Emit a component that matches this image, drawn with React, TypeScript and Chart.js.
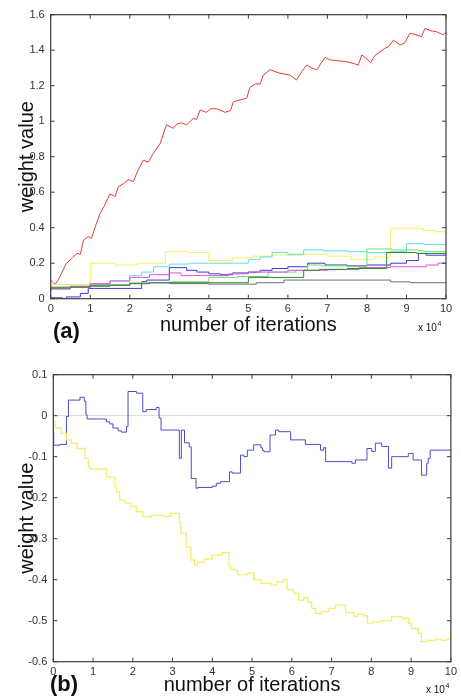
import React, { useEffect, useRef } from 'react';
import { Chart, registerables } from 'chart.js';

Chart.register(...registerables);

// ---------- data (x in units of 10^4 iterations) ----------
const xTicks = [0, 1, 2, 3, 4, 5, 6, 7, 8, 9, 10];
const yTicksA = [0, 0.2, 0.4, 0.6, 0.8, 1, 1.2, 1.4, 1.6];
const yTicksB = [-0.6, -0.5, -0.4, -0.3, -0.2, -0.1, 0, 0.1];

const redA = [[0,0.105],[0.11,0.08],[0.2,0.11],[0.4,0.2],[0.55,0.23],[0.66,0.256],[0.75,0.25],[0.83,0.33],[0.95,0.35],[1.03,0.34],[1.15,0.42],[1.25,0.48],[1.35,0.52],[1.5,0.59],[1.63,0.575],[1.71,0.63],[1.85,0.65],[1.96,0.67],[2.09,0.66],[2.2,0.72],[2.34,0.78],[2.47,0.77],[2.6,0.82],[2.77,0.875],[2.93,0.98],[3.1,0.96],[3.2,0.985],[3.31,0.99],[3.44,0.98],[3.61,1.016],[3.69,1.01],[3.78,1.063],[3.94,1.05],[4.05,1.07],[4.2,1.07],[4.41,1.05],[4.55,1.06],[4.62,1.11],[4.79,1.12],[4.96,1.13],[5.04,1.19],[5.17,1.21],[5.3,1.21],[5.38,1.26],[5.55,1.29],[5.8,1.27],[6.05,1.26],[6.22,1.232],[6.35,1.28],[6.48,1.317],[6.6,1.3],[6.73,1.29],[6.94,1.36],[7.07,1.345],[7.3,1.34],[7.49,1.335],[7.65,1.326],[7.78,1.316],[7.87,1.373],[8.0,1.35],[8.09,1.33],[8.2,1.37],[8.33,1.39],[8.45,1.41],[8.55,1.42],[8.67,1.457],[8.84,1.43],[8.95,1.44],[9.09,1.495],[9.2,1.49],[9.38,1.476],[9.47,1.523],[9.6,1.51],[9.76,1.504],[9.93,1.486],[10,1.5]];
const yellowA = [[0,0.077],[1.0,0.08],[1.63,0.2],[2.2,0.19],[2.9,0.2],[3.45,0.265],[4.0,0.26],[4.6,0.215],[5.1,0.23],[5.6,0.24],[6.4,0.245],[7.0,0.25],[7.6,0.24],[8.2,0.22],[8.6,0.235],[9.43,0.397],[9.7,0.385],[10,0.377]];
const cyanA = [[0,0.05],[0.5,0.055],[1,0.065],[1.5,0.08],[2,0.1],[2.3,0.13],[2.6,0.15],[3,0.18],[3.5,0.195],[4,0.2],[5,0.2],[5.3,0.22],[5.6,0.235],[6,0.26],[6.4,0.25],[6.9,0.275],[7.5,0.27],[8,0.265],[8.6,0.26],[9.0,0.265],[9.45,0.31],[9.8,0.305],[10,0.305]];
const greenA = [[0,0.05],[0.5,0.06],[1,0.07],[2,0.08],[3,0.09],[4,0.095],[4.74,0.12],[5.5,0.125],[6.2,0.15],[6.5,0.16],[6.85,0.19],[7.5,0.185],[8.0,0.18],[8.63,0.28],[9.3,0.275],[9.45,0.27],[10,0.265]];
const darkGreenA = [[0,0.04],[0.5,0.06],[1,0.065],[1.5,0.07],[2,0.075],[2.5,0.085],[3,0.09],[5,0.09],[6.4,0.12],[6.8,0.16],[7.5,0.165],[8.5,0.17],[9.26,0.26],[10,0.255]];
const blueA = [[0,0.02],[0.3,0.005],[0.4,0],[0.75,0.01],[0.95,0.03],[2.3,0.058],[2.43,0.096],[3.0,0.105],[3.44,0.175],[3.7,0.16],[4.0,0.15],[4.3,0.14],[4.6,0.135],[5.0,0.145],[5.3,0.15],[5.6,0.16],[6.0,0.17],[6.5,0.18],[6.94,0.2],[7.5,0.19],[8.0,0.185],[8.6,0.19],[9.0,0.2],[9.3,0.215],[9.5,0.255],[10,0.245]];
const magentaA = [[0,0.05],[0.5,0.055],[1,0.07],[1.5,0.085],[2,0.1],[2.5,0.12],[3,0.135],[3.3,0.145],[3.5,0.13],[4.5,0.13],[5,0.14],[6,0.15],[7,0.16],[7.8,0.165],[8.6,0.175],[9.5,0.18],[9.8,0.19],[10,0.2]];
const grayA = [[0,0.045],[1,0.065],[2,0.075],[2.5,0.085],[3,0.09],[4,0.085],[5.2,0.082],[5.9,0.09],[8.6,0.105],[9.1,0.095],[10,0.09]];

const blueB = [[0,0.006],[0.01,-0.039],[0.17,-0.072],[0.33,-0.07],[0.38,-0.002],[0.67,0.038],[0.78,0.045],[0.82,0.035],[0.85,0.002],[1.34,-0.008],[1.42,-0.015],[1.5,-0.02],[1.63,-0.03],[1.71,-0.037],[1.84,-0.04],[1.88,-0.026],[2.09,0.059],[2.25,0.055],[2.34,0.01],[2.59,0.015],[2.66,0.02],[2.71,-0.006],[3.17,-0.035],[3.22,-0.104],[3.3,-0.035],[3.42,-0.066],[3.47,-0.076],[3.59,-0.153],[3.63,-0.177],[4.0,-0.175],[4.1,-0.172],[4.2,-0.165],[4.43,-0.161],[4.5,-0.137],[4.71,-0.14],[4.79,-0.096],[4.88,-0.1],[5.04,-0.084],[5.22,-0.071],[5.26,-0.078],[5.3,-0.085],[5.45,-0.088],[5.59,-0.047],[5.67,-0.035],[5.97,-0.039],[6.34,-0.059],[6.72,-0.07],[6.8,-0.084],[6.85,-0.078],[7.51,-0.112],[7.6,-0.116],[7.89,-0.108],[8.01,-0.08],[8.1,-0.087],[8.26,-0.067],[8.43,-0.075],[8.51,-0.128],[8.93,-0.1],[9.05,-0.092],[9.26,-0.108],[9.39,-0.145],[9.43,-0.116],[9.48,-0.104],[9.85,-0.084],[10,-0.084]];
const yellowB = [[0,0],[0.05,-0.015],[0.2,-0.03],[0.33,-0.043],[0.45,-0.059],[0.6,-0.067],[0.8,-0.08],[0.88,-0.104],[0.92,-0.124],[1.34,-0.13],[1.55,-0.15],[1.59,-0.173],[1.67,-0.186],[1.8,-0.206],[1.96,-0.213],[2.09,-0.222],[2.25,-0.234],[2.46,-0.246],[2.76,-0.243],[2.95,-0.246],[3.17,-0.238],[3.21,-0.262],[3.34,-0.287],[3.46,-0.32],[3.55,-0.352],[3.63,-0.364],[3.8,-0.357],[4.0,-0.35],[4.25,-0.34],[4.42,-0.334],[4.46,-0.368],[4.63,-0.376],[4.88,-0.388],[5.05,-0.384],[5.22,-0.4],[5.47,-0.409],[5.63,-0.413],[5.8,-0.405],[5.88,-0.4],[6.05,-0.425],[6.17,-0.433],[6.3,-0.45],[6.4,-0.444],[6.5,-0.455],[6.6,-0.47],[6.76,-0.482],[6.93,-0.478],[7.1,-0.47],[7.35,-0.462],[7.56,-0.48],[7.64,-0.49],[7.8,-0.484],[7.9,-0.488],[8.05,-0.506],[8.26,-0.503],[8.51,-0.5],[8.76,-0.49],[8.93,-0.494],[9.01,-0.506],[9.18,-0.519],[9.26,-0.531],[9.39,-0.551],[9.6,-0.548],[9.77,-0.545],[9.9,-0.548],[10,-0.545]];

const FONT = "'Liberation Sans', Arial, Helvetica, sans-serif";

const toPts = (arr: number[][]) => arr.map(([x, y]) => ({ x, y }));

const ds = (data: number[][], color: string, stepped: any, width = 1) => ({
  data: toPts(data),
  borderColor: color,
  backgroundColor: color,
  borderWidth: width,
  pointRadius: 0,
  fill: false,
  stepped,
  tension: 0,
});

const framePlugin = {
  id: 'frame',
  afterDatasetsDraw(chart: any, _args: any, opts: any) {
    const { ctx, chartArea: a, scales } = chart;
    ctx.save();
    ctx.strokeStyle = '#3c3c3c';
    ctx.lineWidth = 1.2;
    ctx.strokeRect(a.left, a.top, a.right - a.left, a.bottom - a.top);
    const L = 4;
    ctx.beginPath();
    scales.x.ticks.forEach((t: any) => {
      const px = scales.x.getPixelForValue(t.value);
      ctx.moveTo(px, a.bottom); ctx.lineTo(px, a.bottom - L);
      ctx.moveTo(px, a.top); ctx.lineTo(px, a.top + L);
    });
    scales.y.ticks.forEach((t: any) => {
      const py = scales.y.getPixelForValue(t.value);
      ctx.moveTo(a.left, py); ctx.lineTo(a.left + L, py);
      ctx.moveTo(a.right, py); ctx.lineTo(a.right - L, py);
    });
    ctx.lineWidth = 1;
    ctx.stroke();
    // panel label and exponent
    ctx.fillStyle = '#111';
    ctx.textBaseline = 'alphabetic';
    ctx.textAlign = 'left';
    ctx.font = `bold 22px ${FONT}`;
    ctx.fillText(opts.label, opts.labelX, opts.labelY);
    ctx.font = `10px ${FONT}`;
    ctx.fillText('x 10', opts.expX, opts.expY);
    const w = ctx.measureText('x 10').width;
    ctx.font = `7px ${FONT}`;
    ctx.fillText('4', opts.expX + w + 0.5, opts.expY - 5);
    ctx.restore();
  },
};

function makeOptions(cfg: any) {
  return {
    responsive: false,
    animation: false,
    layout: { padding: cfg.padding },
    plugins: {
      legend: { display: false },
      tooltip: { enabled: false },
      frame: cfg.frame,
    },
    scales: {
      x: {
        type: 'linear',
        min: 0,
        max: 10,
        afterBuildTicks: (s: any) => { s.ticks = xTicks.map((v) => ({ value: v })); },
        afterFit: (s: any) => { s.height = cfg.xHeight; },
        grid: { display: false, drawTicks: false },
        border: { display: false },
        ticks: {
          autoSkip: false,
          maxRotation: 0,
          padding: cfg.xTickPad,
          color: '#333',
          font: { family: FONT, size: 11 },
          callback: (v: any) => String(Math.round(Number(v) * 10) / 10),
        },
        title: {
          display: true,
          text: 'number of iterations',
          color: '#111',
          font: { family: FONT, size: 20, lineHeight: 1.2 },
          padding: { top: 0, bottom: cfg.xTitlePad },
        },
      },
      y: {
        type: 'linear',
        min: cfg.yMin,
        max: cfg.yMax,
        afterBuildTicks: (s: any) => { s.ticks = cfg.yTicks.map((v: number) => ({ value: v })); },
        afterFit: (s: any) => { s.width = cfg.yWidth; },
        grid: {
          display: true,
          drawTicks: false,
          drawOnChartArea: true,
          lineWidth: 1,
          color: (c: any) => (cfg.zeroLine && c.tick && c.tick.value === 0 ? '#dedede' : 'rgba(0,0,0,0)'),
        },
        border: { display: false },
        ticks: {
          padding: 6,
          color: '#333',
          font: { family: FONT, size: 11 },
          callback: (v: any) => String(Math.round(Number(v) * 10) / 10),
        },
        title: {
          display: true,
          text: 'weight value',
          color: '#111',
          font: { family: FONT, size: 20, lineHeight: 1.2 },
          padding: { top: 15, bottom: 0 },
        },
      },
    },
  };
}

export default function App() {
  const refA = useRef<HTMLCanvasElement>(null);
  const refB = useRef<HTMLCanvasElement>(null);

  useEffect(() => {
    const chartA = new Chart(refA.current as HTMLCanvasElement, {
      type: 'line',
      data: {
        datasets: [
          ds(grayA, '#707070', 'after'),
          ds(darkGreenA, '#2c8a2c', 'after'),
          ds(magentaA, '#e04ee0', 'after'),
          ds(greenA, '#6ee06e', 'after'),
          ds(cyanA, '#5fdcf0', 'after'),
          ds(yellowA, '#f2f264', 'after'),
          ds(blueA, '#3a3ad6', 'after'),
          ds(redA, '#e63c3c', false),
        ],
      },
      options: makeOptions({
        padding: { left: 0, top: 14.7, right: 15, bottom: 0 },
        xHeight: 51.3,
        yWidth: 50.7,
        xTickPad: 4,
        xTitlePad: 13,
        yMin: 0,
        yMax: 1.6,
        yTicks: yTicksA,
        zeroLine: false,
        frame: { label: '(a)', labelX: 53, labelY: 338, expX: 418, expY: 331 },
      }) as any,
      plugins: [framePlugin as any],
    });

    const chartB = new Chart(refB.current as HTMLCanvasElement, {
      type: 'line',
      data: {
        datasets: [
          ds(yellowB, '#f0f070', 'after', 1.3),
          ds(blueB, '#4c4cc8', 'after'),
        ],
      },
      options: makeOptions({
        padding: { left: 0, top: 24.7, right: 8.3, bottom: 0 },
        xHeight: 35.3,
        yWidth: 53.3,
        xTickPad: 4,
        xTitlePad: 0,
        yMin: -0.6,
        yMax: 0.1,
        yTicks: yTicksB,
        zeroLine: true,
        frame: { label: '(b)', labelX: 50, labelY: 341, expX: 426, expY: 343 },
      }) as any,
      plugins: [framePlugin as any],
    });

    return () => {
      chartA.destroy();
      chartB.destroy();
    };
  }, []);

  return (
    <div style={{ position: 'fixed', left: 0, top: 0, width: 461, height: 697, background: '#fff', overflow: 'hidden' }}>
      <canvas ref={refA} width={461} height={350} style={{ position: 'absolute', left: 0, top: 0, display: 'block' }} />
      <canvas ref={refB} width={461} height={347} style={{ position: 'absolute', left: 0, top: 350, display: 'block' }} />
    </div>
  );
}
